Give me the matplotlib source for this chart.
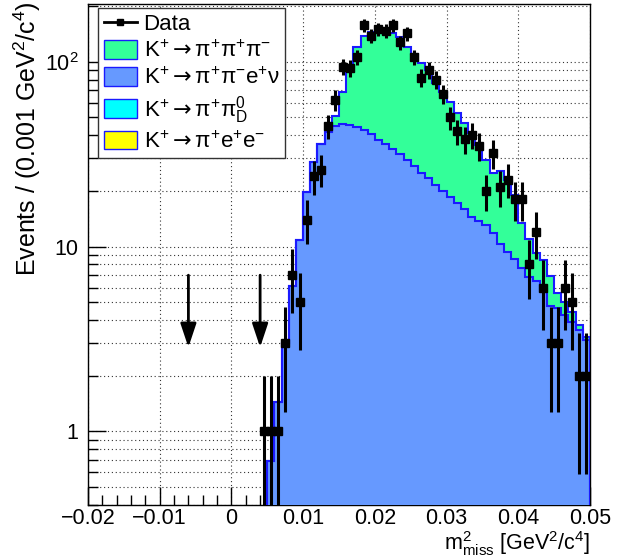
import numpy as np
import matplotlib
matplotlib.use("Agg")
import matplotlib.pyplot as plt
from matplotlib.patches import Patch
from matplotlib.lines import Line2D
from matplotlib.ticker import FixedLocator, FixedFormatter, NullFormatter, MultipleLocator, LogLocator

plt.rcParams['font.family'] = ['Liberation Sans', 'DejaVu Sans']
plt.rcParams['mathtext.fontset'] = 'custom'
plt.rcParams['mathtext.rm'] = 'Liberation Sans'
plt.rcParams['mathtext.it'] = 'Liberation Sans'
plt.rcParams['mathtext.sf'] = 'DejaVu Sans'
plt.rcParams['mathtext.bf'] = 'Liberation Sans:bold'
plt.rcParams['mathtext.default'] = 'regular'

# ---------------- data ----------------
bin_width = 0.001
mc_first_edge = 0.005
# K+ -> pi+ pi- e+ nu (blue, bottom of stack), bins 0.005 ... 0.050
ke4_counts = [0.69, 1.45, 3.0, 6.1, 10.8, 19.6, 28.8, 35.9, 41.5, 44.7,
              45.9, 45.4, 44.5, 42.5, 40.4, 37.7, 36.0, 33.5, 31.6, 29.3,
              27.3, 25.1, 23.4, 21.6, 20.0, 18.6, 17.2, 15.9, 14.4, 13.8,
              13.0, 11.8, 10.3, 9.3, 8.55, 7.64, 6.88, 6.47, 5.88, 4.78,
              4.65, 4.27, 3.93, 3.55, 3.13]
# K+ -> pi+ pi+ pi- (green, stacked on top)
k3pi_counts = [0.0, 0.0, 0.0, 0.0, 0.0, 0.0, 0.0, 0.0, 0.5, 5.9,
               23.0, 44.8, 76.0, 95.2, 104.6, 111.3, 109.0, 108.5, 103.9, 91.2,
               82.7, 73.7, 66.8, 54.8, 48.9, 42.2, 35.4, 30.9, 26.9, 21.7,
               16.4, 13.1, 15.4, 13.6, 10.45, 5.76, 4.12, 2.73, 2.62, 2.17,
               0.95, 0.73, 0.52, 0.22, 0.13]

# data points, bins 0.004 ... 0.050
data_first_edge = 0.004
data_counts = [1, 1, 1, 3, 7, 5, 14, 24, 26, 45,
               62, 94, 92, 106, 158, 138, 150, 147, 158, 127,
               142, 106, 82, 90, 80, 67, 50, 42, 38, 40,
               35, 20, 32, 21, 23, 18, 18, 8, 12, 6,
               3, 3, 6, 5, 2, 2]

# cut arrows
cut_positions = [-0.006, 0.004]
arrow_top = 7.0
arrow_tip = 2.85

ARR = r"\mathsf{\rightarrow}"
legend_labels = ["Data",
                 r"K$^{+}" + ARR + r"\pi^{+}\pi^{+}\pi^{-}$",
                 r"K$^{+}" + ARR + r"\pi^{+}\pi^{-}e^{+}\nu$",
                 r"K$^{+}" + ARR + r"\pi^{+}\pi^{0}_{D}$",
                 r"K$^{+}" + ARR + r"\pi^{+}e^{+}e^{-}$"]

x_ticks = [-0.02, -0.01, 0.0, 0.01, 0.02, 0.03, 0.04, 0.05]
x_tick_labels = ["\u22120.02", "\u22120.01", "0", "0.01", "0.02", "0.03", "0.04", "0.05"]
y_ticks = [1, 10, 100]
y_tick_labels = ["1", "10", r"10$^{2}$"]

col_green = "#33ff99"
col_blue = "#6699ff"
col_cyan = "#00ffff"
col_yellow = "#ffff00"
col_line = "#1a1aff"

# ---------------- figure ----------------
W, H = 624, 558
fig = plt.figure(figsize=(W / 100, H / 100), dpi=100)

ax = fig.add_axes([88 / W, 1 - 505 / H, 502 / W, 501 / H])
ax.set_yscale('log')
ax.set_xlim(-0.02, 0.05)
ax.set_ylim(0.4, 205)

ke4 = np.array(ke4_counts)
k3pi = np.array(k3pi_counts)
total = ke4 + k3pi
edges = mc_first_edge + bin_width * np.arange(len(ke4) + 1)
base = 0.05

ax.stairs(total, edges, baseline=base, fill=True, color=col_green, zorder=2)
ax.stairs(ke4, edges, baseline=base, fill=True, color=col_blue, zorder=3)
ax.stairs(total, edges, baseline=base, fill=False, edgecolor=col_line, lw=1.5, zorder=4)
ax.stairs(ke4, edges, baseline=base, fill=False, edgecolor=col_line, lw=1.5, zorder=4)

dn = np.array(data_counts, dtype=float)
dx = data_first_edge + bin_width * (np.arange(len(dn)) + 0.5)
ax.errorbar(dx, dn, yerr=np.sqrt(dn), xerr=bin_width / 2, fmt='s', color='k',
            ms=5.5, elinewidth=2.2, capsize=0, zorder=6)

for xc in cut_positions:
    ax.annotate('', xy=(xc, arrow_tip), xytext=(xc, arrow_top),
                arrowprops=dict(arrowstyle='-|>,head_length=1.2,head_width=0.4',
                                mutation_scale=12, color='k', lw=2,
                                shrinkA=0, shrinkB=0), zorder=7)

# grid
grid_kw = dict(color='#333333', lw=0.8, linestyle=(0, (1, 2.5)))
ax.grid(True, axis='x', which='major', **grid_kw)
ax.grid(True, axis='y', which='both', **grid_kw)
ax.set_axisbelow(True)

# ticks
ax.xaxis.set_major_locator(FixedLocator(x_ticks))
ax.xaxis.set_major_formatter(FixedFormatter(x_tick_labels))
ax.xaxis.set_minor_locator(MultipleLocator(0.002))
ax.yaxis.set_major_locator(FixedLocator(y_ticks))
ax.yaxis.set_major_formatter(FixedFormatter(y_tick_labels))
ax.yaxis.set_minor_locator(LogLocator(base=10, subs=np.arange(2, 10), numticks=20))
ax.yaxis.set_minor_formatter(NullFormatter())
ax.tick_params(which='major', direction='in', length=13, width=1, labelsize=15.5,
               top=False, right=False, pad=2)
ax.tick_params(which='minor', direction='in', length=7, width=1, top=False, right=False)
ax.tick_params(axis='y', which='major', pad=7)
for s in ax.spines.values():
    s.set_linewidth(1.0)

ax.set_ylabel(r"Events / (0.001 GeV$^{2}$/c$^{4}$)", fontsize=18, loc='top')
ax.yaxis.set_label_coords(-45 / 502, 1.0 + 3 / 501)
ax.set_xlabel(r"m$^{2}_{miss}$ [GeV$^{2}$/c$^{4}$]", fontsize=15.5, loc='right')
ax.xaxis.set_label_coords(1.0, -53 / 501)
ax.xaxis.label.set_va('bottom')

handles = [Line2D([], [], color='k', marker='s', ms=4, lw=2),
           Patch(facecolor=col_green, edgecolor=col_line),
           Patch(facecolor=col_blue, edgecolor=col_line),
           Patch(facecolor=col_cyan, edgecolor=col_line),
           Patch(facecolor=col_yellow, edgecolor=col_line)]
leg = ax.legend(handles, legend_labels, loc='upper left',
                bbox_to_anchor=(98 / W, 1 - 8 / H), bbox_transform=fig.transFigure,
                frameon=True, fancybox=False, edgecolor='#333333', framealpha=1,
                borderaxespad=0, fontsize=16, handlelength=1.5, handleheight=0.9,
                handletextpad=0.3, labelspacing=0.22, borderpad=0.25)
leg.get_frame().set_linewidth(1.0)
leg.set_zorder(10)

fig.savefig("out.png", dpi=100)
